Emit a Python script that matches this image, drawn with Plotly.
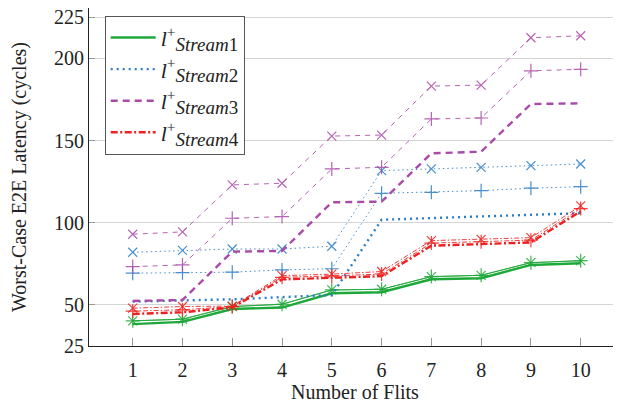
import plotly.graph_objects as go

flits = [1, 2, 3, 4, 5, 6, 7, 8, 9, 10]

s1_thick = [38.3, 39.7, 47.5, 48.4, 57.1, 57.7, 65.6, 66.2, 74.3, 75.3]
s1_plus = [40.3, 41.3, 49.0, 50.4, 59.1, 59.5, 67.2, 68.0, 75.7, 76.9]
s1_cross = [40.3, 41.3, 49.0, 50.4, 59.1, 59.5, 67.2, 68.0, 75.7, 76.9]

s2_thick = [52.0, 52.6, 53.4, 54.7, 56.0, 101.8, 102.8, 103.8, 104.8, 105.8]
s2_plus = [69.3, 69.6, 69.9, 71.3, 72.0, 117.9, 118.5, 119.5, 121.0, 121.9]
s2_cross = [82.0, 83.2, 84.0, 84.0, 85.7, 131.7, 132.7, 133.7, 134.7, 135.7]

s3_thick = [52.4, 53.0, 82.4, 82.8, 112.4, 112.8, 142.2, 143.2, 172.2, 172.6]
s3_plus = [73.3, 74.3, 102.7, 103.7, 132.7, 133.7, 163.1, 163.7, 192.4, 193.3]
s3_cross = [93.0, 94.4, 123.0, 124.0, 152.7, 153.3, 183.1, 183.7, 212.5, 213.7]

s4_thick = [44.5, 45.5, 48.5, 65.5, 66.5, 67.5, 86.0, 87.0, 88.0, 107.0]
s4_plus = [46.2, 47.0, 49.0, 66.8, 67.6, 68.8, 87.6, 88.4, 89.4, 108.6]
s4_cross = [48.0, 49.0, 49.3, 67.8, 68.7, 70.3, 89.1, 89.9, 90.9, 110.2]

stream_labels = ["Stream", "Stream", "Stream", "Stream"]
stream_ids = ["1", "2", "3", "4"]
names = [
    "<i>l</i><sup>+</sup><sub><span style='font-size:19px'><i>%s</i>%s</span></sub>" % (s, k)
    for s, k in zip(stream_labels, stream_ids)
]
colors = ["#1fa83a", "#2a7cc6", "#a94aa8", "#ee2020"]
thick_dash = ["solid", "2px,4px", "7px,5px", "7px,2.5px,2px,2.5px"]
thin_dash = ["solid", "1.5px,3px", "5px,5px", "5px,2px,1.5px,2px"]

series = [
    (s1_thick, s1_plus, s1_cross),
    (s2_thick, s2_plus, s2_cross),
    (s3_thick, s3_plus, s3_cross),
    (s4_thick, s4_plus, s4_cross),
]

fig = go.Figure()
for i, (th, pl, cr) in enumerate(series):
    fig.add_trace(go.Scatter(
        x=flits, y=th, mode="lines", name=names[i],
        line=dict(color=colors[i], width=2.4, dash=thick_dash[i]),
    ))
    fig.add_trace(go.Scatter(
        x=flits, y=pl, mode="lines+markers", showlegend=False,
        line=dict(color=colors[i], width=1, dash=thin_dash[i]), opacity=0.85,
        marker=dict(symbol="cross-thin-open", size=10,
                    line=dict(color=colors[i], width=1.2)),
    ))
    fig.add_trace(go.Scatter(
        x=flits, y=cr, mode="lines+markers", showlegend=False,
        line=dict(color=colors[i], width=1, dash=thin_dash[i]), opacity=0.85,
        marker=dict(symbol="x-thin-open", size=9,
                    line=dict(color=colors[i], width=1.2)),
    ))

font_family = "Liberation Serif"
fig.update_layout(
    width=613, height=399,
    margin=dict(l=81, r=0, t=0, b=61, autoexpand=False),
    plot_bgcolor="white", paper_bgcolor="white",
    font=dict(family=font_family, size=20, color="#222"),
    showlegend=True,
    legend=dict(
        x=(104.7 - 89) / 532, y=1 - (15.7 - 8) / 338, xanchor="left", yanchor="top",
        bgcolor="white", bordercolor="#555", borderwidth=1,
        font=dict(family=font_family, size=22, color="#222"),
        tracegroupgap=0, itemwidth=45,
    ),
    xaxis=dict(
        range=[0.122, 10.81], tickvals=flits, ticktext=[str(v) for v in flits],
        showgrid=False, zeroline=False, automargin=False,
        showline=True, linecolor="#222", linewidth=1,
        ticks="inside", ticklen=8, tickcolor="#999", tickwidth=1,
        tickfont=dict(size=20), ticklabelstandoff=6, ticklabeloverflow="allow",
        title=dict(text="Number of Flits", font=dict(size=20), standoff=2),
    ),
    yaxis=dict(
        range=[25, 230.6], tickvals=[25, 50, 100, 150, 200, 225],
        showgrid=True, gridcolor="#d4d4d4", gridwidth=1, zeroline=False,
        automargin=False,
        showline=True, linecolor="#222", linewidth=1,
        ticks="inside", ticklen=6, tickcolor="#999", tickwidth=1,
        tickfont=dict(size=20), ticklabeloverflow="allow",
        title=dict(text="Worst-Case E2E Latency (cycles)", font=dict(size=20), standoff=24),
    ),
)

fig.write_html("out.html")
